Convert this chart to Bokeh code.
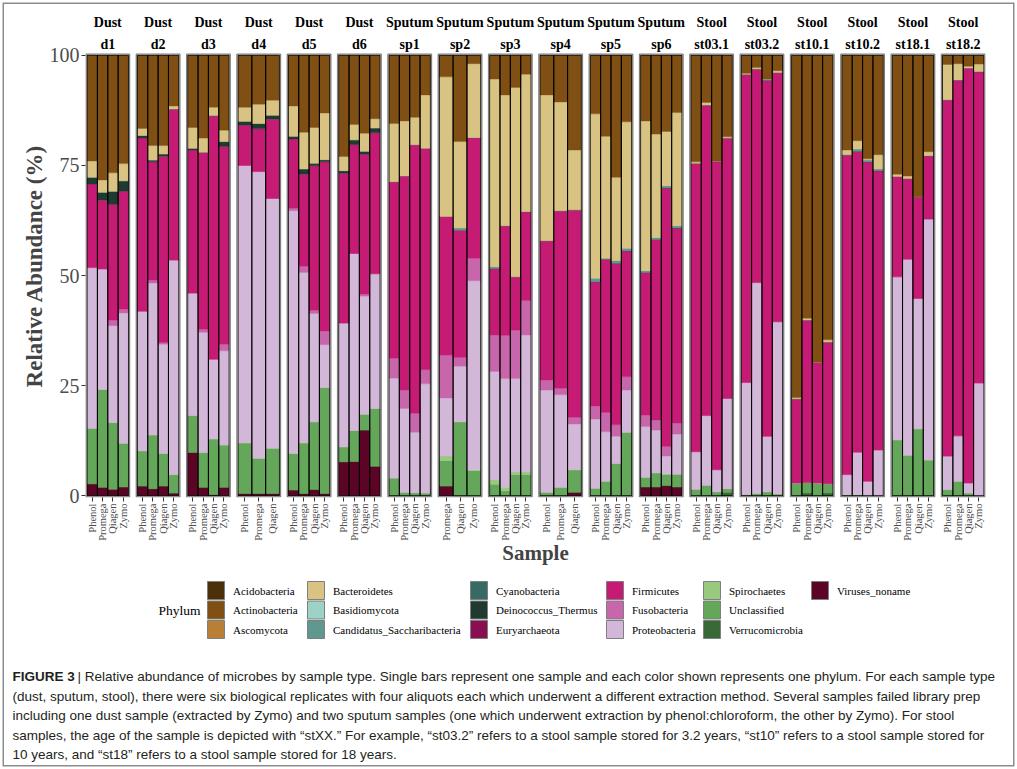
import math
from bokeh.plotting import figure
from bokeh.layouts import column
from bokeh.models import ColumnDataSource, Range1d, FixedTicker
from bokeh.core.properties import value
from bokeh.embed import file_html
from bokeh.resources import INLINE

# ---------------- data ----------------
sample_types = ["Dust"] * 6 + ["Sputum"] * 6 + ["Stool"] * 6
sample_ids = ["d1", "d2", "d3", "d4", "d5", "d6",
              "sp1", "sp2", "sp3", "sp4", "sp5", "sp6",
              "st03.1", "st03.2", "st10.1", "st10.2", "st18.1", "st18.2"]
ALL = ["Phenol", "Promega", "Qiagen", "Zymo"]
methods = [ALL, ALL, ALL, ["Phenol", "Promega", "Qiagen"], ALL, ALL,
           ALL, ["Promega", "Qiagen", "Zymo"], ALL, ["Phenol", "Promega", "Qiagen"], ALL, ALL,
           ALL, ALL, ALL, ALL, ALL, ALL]

phyla = ["Acidobacteria", "Actinobacteria", "Ascomycota", "Bacteroidetes", "Basidiomycota",
         "Candidatus_Saccharibacteria", "Cyanobacteria", "Deinococcus_Thermus", "Euryarchaeota",
         "Firmicutes", "Fusobacteria", "Proteobacteria", "Spirochaetes", "Unclassified",
         "Verrucomicrobia", "Viruses_noname"]
phylum_colors = ["#4b3009", "#7f4f13", "#b97f36", "#d9c382", "#9dd3c5",
                 "#5f988e", "#366b63", "#1f3a2f", "#8a0f52",
                 "#c51b75", "#c866ab", "#d3b7d8", "#98c97e", "#65a75a",
                 "#376a36", "#5b0426"]

# percentages per bar, panel by panel (d1..st18.2)
viruses_noname = [2.7, 1.9, 1.5, 2.0, 2.2, 1.6, 2.2, 0.6, 9.8, 1.9, 0.3, 1.9, 0.5, 0.5, 0.5,
                  1.3, 0.5, 1.4, 0.5, 7.7, 7.8, 14.9, 6.7,
                  0, 0, 0, 0, 2.2, 0, 0, 0, 0, 0, 0, 0, 0, 0.8, 0, 0, 0, 0, 2.0, 2.0, 2.3, 2.0,
                  0, 0, 0, 0, 0, 0, 0, 0, 0, 0, 0, 0, 0, 0, 0, 0, 0, 0, 0, 0, 0, 0, 0, 0]
verrucomicrobia = [0, 0, 0, 0, 0, 0, 0, 0, 0, 0, 0, 0, 0, 0, 0,
                   0, 0, 0, 0, 0, 0, 0, 0,
                   0, 0, 0, 0, 0, 0, 0, 0, 0, 0, 0, 0, 0, 0, 0, 0, 0, 0, 0, 0, 0, 0,
                   0, 0, 0, 0.8, 0, 0, 0, 0, 0, 0.6, 0, 0.6, 0, 0, 0, 0, 0, 0, 0, 0, 0, 0, 0, 0]
unclassified = [12.6, 22.2, 15.1, 9.9, 8.0, 12.2, 7.4, 4.2, 8.4, 7.9, 12.6, 9.6, 11.5, 8.0, 10.3,
                8.3, 11.5, 15.4, 24.1, 3.4, 7.0, 3.6, 13.1,
                4.0, 0.8, 0.7, 0.6, 5.8, 16.8, 5.7, 2.6, 1.1, 4.8, 4.8, 0.8, 1.9, 5.1,
                1.7, 3.3, 7.3, 14.4, 2.2, 3.2, 2.6, 2.9,
                1.5, 2.4, 0.9, 0.8, 0.3, 0.5, 0.9, 0.4, 2.9, 2.4, 2.9, 2.1, 0.2, 0.2, 0, 0,
                12.7, 9.2, 15.2, 8.1, 1.4, 3.3, 0.6, 0]
spirochaetes = [0, 0, 0, 0, 0, 0, 0, 0, 0, 0, 0, 0, 0, 0, 0,
                0, 0, 0, 0, 0, 0, 0, 0,
                0, 0, 0, 0, 1.0, 0, 0.2, 1.0, 0.8, 0.6, 0.6, 0, 0, 0, 0, 0, 0, 0, 0, 0, 0, 0,
                0, 0, 0, 0, 0, 0, 0, 0, 0, 0, 0, 0, 0, 0, 0, 0, 0, 0, 0, 0, 0, 0, 0, 0]
proteobacteria = [36.5, 27.4, 22.0, 29.6, 31.7, 34.5, 24.8, 48.7, 27.8, 27.3, 18.1, 21.4, 63.0, 65.1, 56.7,
                  55.1, 38.7, 24.6, 9.7, 28.1, 40.2, 26.8, 30.6,
                  22.7, 19.0, 13.7, 24.8, 13.2, 12.6, 42.9, 24.6, 24.7, 21.2, 31.1, 23.2, 21.0, 10.4,
                  15.7, 11.2, 6.2, 9.6, 11.5, 9.7, 4.1, 9.1,
                  8.5, 15.8, 5.0, 20.5, 25.4, 47.9, 12.6, 39.1, 0, 0, 0, 0, 4.6, 9.7, 3.3, 10.4,
                  37.0, 44.5, 29.6, 54.7, 7.6, 10.3, 2.3, 25.6]
fusobacteria = [0, 0, 1.3, 0.9, 0, 0.7, 0.4, 0, 0, 0.7, 0, 1.5, 0, 0, 0,
                0.6, 1.4, 0.7, 3.1, 0, 0, 0.5, 0,
                4.5, 4.2, 4.3, 3.2, 9.7, 2.0, 5.1, 8.3, 9.8, 11.0, 7.8, 2.3, 1.5, 1.5,
                3.0, 4.4, 2.6, 3.0, 2.6, 2.3, 2.2, 2.5,
                0, 0, 0, 0, 0, 0, 0, 0, 0, 0, 0, 0, 0, 0, 0, 0, 0, 0, 0, 0, 0, 0, 0, 0]
firmicutes = [19.0, 15.6, 26.2, 26.7, 39.3, 26.8, 42.3, 34.3, 32.5, 40.2, 55.3, 44.9, 9.1, 9.7, 18.0,
              15.7, 20.9, 32.8, 38.4, 34.0, 24.7, 31.7, 32.0,
              40.1, 48.6, 61.0, 50.3, 31.5, 28.9, 27.4, 15.1, 24.9, 12.1, 20.2, 31.6, 40.3, 47.1,
              28.2, 34.8, 36.7, 28.6, 32.4, 41.0, 58.7, 44.3,
              65.5, 70.5, 70.1, 59.1, 70.0, 48.5, 80.8, 56.6, 19.1, 36.9, 27.4, 32.2,
              72.6, 68.3, 72.5, 63.4, 22.8, 18.3, 23.1, 14.4, 80.9, 80.8, 94.2, 70.7]
deinococcus_thermus = [1.5, 1.8, 3.0, 2.4, 0.6, 0.4, 0.5, 0, 0.4, 0, 0, 1.1, 0.9, 1.2, 0.9,
                       0.6, 1.2, 0.6, 0.5, 0.6, 1.1, 0.7, 1.1,
                       0, 0, 0, 0, 0, 0, 0, 0, 0, 0, 0, 0, 0, 0, 0, 0, 0, 0, 0, 0, 0, 0,
                       0, 0, 0, 0, 0, 0, 0, 0, 0, 0, 0, 0, 0, 0, 0, 0, 0, 0, 0, 0, 0, 0, 0, 0]
candidatus_saccharibacteria = [0, 0, 0, 0, 0, 0, 0, 0, 0, 0, 0, 0, 0, 0, 0,
                               0, 0, 0, 0, 0, 0, 0, 0,
                               0, 0, 0, 0, 0, 0.5, 0, 0.4, 0, 0, 0, 0, 0, 0,
                               0.8, 0.2, 0.6, 0.6, 0.4, 0.4, 0.5, 0.5,
                               0, 0, 0, 0, 0, 0, 0.3, 0, 0, 0, 0, 0, 0, 0.5, 0.4, 0.4,
                               0, 0, 0, 0, 0, 0, 0, 0]
bacteroidetes = [3.7, 2.8, 4.2, 3.9, 1.6, 3.3, 1.9, 0.7, 4.7, 3.2, 1.9, 2.6, 3.2, 4.4, 3.4,
                 6.9, 8.3, 8.1, 10.6, 3.2, 3.5, 4.1, 2.1,
                 13.2, 12.5, 6.2, 12.1, 31.7, 19.6, 16.8, 42.6, 29.7, 43.0, 31.2, 33.1, 24.7, 13.6,
                 37.3, 27.7, 18.9, 28.7, 34.0, 23.5, 12.3, 25.7,
                 0.3, 0.6, 0, 0.3, 0.2, 0.3, 0, 0.4, 0.3, 0.4, 0, 0.5, 1.1, 1.9, 0.3, 3.2,
                 0.5, 0.6, 0, 0.9, 8.0, 3.7, 0.4, 1.7]
actinobacteria = [24.0, 28.3, 26.7, 24.6, 16.6, 20.5, 20.5, 11.5, 16.4, 18.8, 11.8, 17.0, 11.8, 11.1, 10.2,
                  11.5, 17.5, 16.4, 13.1, 23.0, 15.7, 17.7, 14.4,
                  15.5, 14.9, 14.1, 9.0, 4.9, 19.6, 1.9, 5.4, 9.0, 7.3, 4.3, 9.0, 10.6, 21.5,
                  13.3, 18.4, 27.7, 15.1, 14.9, 17.9, 17.3, 13.0,
                  24.2, 10.7, 24.0, 18.5, 4.1, 2.8, 5.4, 3.5, 77.7, 59.7, 69.7, 64.6,
                  21.5, 19.4, 23.5, 22.6, 27.0, 27.4, 32.1, 21.9, 2.1, 1.9, 2.5, 2.0]

# stacking order, bottom to top
stack_data = [("Viruses_noname", viruses_noname), ("Verrucomicrobia", verrucomicrobia),
              ("Unclassified", unclassified), ("Spirochaetes", spirochaetes),
              ("Proteobacteria", proteobacteria), ("Fusobacteria", fusobacteria),
              ("Firmicutes", firmicutes), ("Deinococcus_Thermus", deinococcus_thermus),
              ("Candidatus_Saccharibacteria", candidatus_saccharibacteria),
              ("Bacteroidetes", bacteroidetes), ("Actinobacteria", actinobacteria)]

caption_head = "FIGURE 3"
caption_lines = [
    "| Relative abundance of microbes by sample type. Single bars represent one sample and each color shown represents one phylum. For each sample type",
    "(dust, sputum, stool), there were six biological replicates with four aliquots each which underwent a different extraction method. Several samples failed library prep",
    "including one dust sample (extracted by Zymo) and two sputum samples (one which underwent extraction by phenol:chloroform, the other by Zymo). For stool",
    "samples, the age of the sample is depicted with \u201cstXX.\u201d For example, \u201cst03.2\u201d refers to a stool sample stored for 3.2 years, \u201cst10\u201d refers to a stool sample stored for",
    "10 years, and \u201cst18\u201d refers to a stool sample stored for 18 years.",
]

# ---------------- layout constants ----------------
W = 1017
PANEL_W, GAP, PAD = 12.6, 1.97, 0.3
n_panels = len(sample_ids)
TOTAL = n_panels * PANEL_W + (n_panels - 1) * GAP
SERIF = "Liberation Serif"
CAP_FONT = "Liberation Sans"
FRAME_L, FRAME_R = 85, 985          # main frame, canvas px
TOP_H = 34                          # height of the band with the first strip row
PANEL_TOP, PANEL_BOT = 53, 497      # canvas px of y = 100.4 and y = -0.4
PX_PER_UNIT = (PANEL_BOT - PANEL_TOP) / 100.8
MAIN_BOTTOM = 580
BOT_H = 769 - MAIN_BOTTOM
XS0, XS1 = -0.15, TOTAL + 0.15
kpx = (FRAME_R - FRAME_L) / (XS1 - XS0)
Y_TOP = 100.4 + (PANEL_TOP - TOP_H) / PX_PER_UNIT

xs, ws, tick_labels = [], [], {}
panel_left, panel_right, panel_mid = [], [], []
for pi, ms in enumerate(methods):
    left = pi * (PANEL_W + GAP)
    panel_left.append(left)
    panel_right.append(left + PANEL_W)
    panel_mid.append(left + PANEL_W / 2)
    bw = (PANEL_W - 2 * PAD) / len(ms)
    for i, m in enumerate(ms):
        xc = left + PAD + bw * (i + 0.5)
        xs.append(xc)
        ws.append(bw)
        tick_labels[xc] = m

data = {"x": xs, "w": ws}
names = []
for name, vals in stack_data:
    data[name] = vals
    names.append(name)
data["total"] = [sum(v[i] for _, v in stack_data) for i in range(len(xs))]
src = ColumnDataSource(data)
cmap = dict(zip(phyla, phylum_colors))


def plain(fig, bg=None):
    fig.outline_line_color = None
    fig.xgrid.visible = False
    fig.ygrid.visible = False
    fig.background_fill_color = bg
    fig.border_fill_color = None
    return fig


# ---------------- first strip row (top band) ----------------
top = plain(figure(width=W, height=TOP_H, output_backend="svg", toolbar_location=None, title=None,
                   x_range=Range1d(XS0 - FRAME_L / kpx, XS1 + (W - FRAME_R) / kpx),
                   y_range=Range1d(TOP_H, 0), x_axis_type=None, y_axis_type=None,
                   min_border=0, frame_align=False))
top.text(x=panel_mid, y=[22] * n_panels,
         text=sample_types, text_font=value(SERIF), text_font_style="bold",
         text_font_size=value("14px"), text_align="center", text_baseline="middle",
         text_color="black")

# ---------------- main chart ----------------
p = plain(figure(width=W, height=MAIN_BOTTOM - TOP_H, output_backend="svg", toolbar_location=None,
                 title=None, x_range=Range1d(XS0, XS1), y_range=Range1d(-0.4, Y_TOP),
                 min_border_left=FRAME_L, min_border_right=W - FRAME_R,
                 min_border_top=0, min_border_bottom=MAIN_BOTTOM - PANEL_BOT,
                 frame_align=False), bg="white")

p.vbar_stack(names, x="x", width="w", source=src,
             color=[cmap[n] for n in names], line_width=0.4)
p.vbar(x="x", width="w", bottom=0, top="total", source=src,
       fill_color=None, line_color="black", line_width=0.9)
p.quad(left=panel_left, right=panel_right, bottom=-0.25, top=100.25,
       fill_color=None, line_color="#7f7f7f", line_width=1.4)
# second strip row (sample ids) sits just above the panels
p.text(x=panel_mid, y=[100.4 + (PANEL_TOP - 44) / PX_PER_UNIT] * n_panels,
       text=sample_ids, text_font=value(SERIF), text_font_style="bold",
       text_font_size=value("14px"), text_align="center", text_baseline="middle",
       text_color="black")

p.xaxis.ticker = FixedTicker(ticks=xs)
p.xaxis.major_label_overrides = tick_labels
p.xaxis.major_label_orientation = math.pi / 2
p.xaxis.axis_line_color = None
p.xaxis.major_tick_line_color = "#333333"
p.xaxis.major_tick_out = 4
p.xaxis.major_tick_in = 0
p.xaxis.minor_tick_line_color = None
p.xaxis.major_label_text_font = SERIF
p.xaxis.major_label_text_font_size = "10.5px"
p.xaxis.major_label_text_color = "#4d4d4d"
p.xaxis.major_label_standoff = 2
p.xaxis.axis_label = "Sample"
p.xaxis.axis_label_text_font = SERIF
p.xaxis.axis_label_text_font_style = "bold"
p.xaxis.axis_label_text_font_size = "21px"
p.xaxis.axis_label_standoff = -3

p.yaxis.ticker = FixedTicker(ticks=[0, 25, 50, 75, 100])
p.yaxis.axis_line_color = None
p.yaxis.major_tick_line_color = "#333333"
p.yaxis.major_tick_out = 4
p.yaxis.major_tick_in = 0
p.yaxis.minor_tick_line_color = None
p.yaxis.major_label_text_font = SERIF
p.yaxis.major_label_text_font_size = "20px"
p.yaxis.major_label_text_color = "#4d4d4d"
p.yaxis.major_label_standoff = 2
p.yaxis.axis_label = "Relative Abundance (%)"
p.yaxis.axis_label_text_font = SERIF
p.yaxis.axis_label_text_font_style = "bold"
p.yaxis.axis_label_text_font_size = "23px"
p.yaxis.axis_label_standoff = 0

# ---------------- legend + caption (bottom band) ----------------
bot = plain(figure(width=W, height=BOT_H, output_backend="svg", toolbar_location=None, title=None,
                   x_range=Range1d(0, W), y_range=Range1d(769, MAIN_BOTTOM),
                   x_axis_type=None, y_axis_type=None, min_border=0, frame_align=False))
col_x = [207, 307, 470, 606, 703, 811]
kl, kt, lx, ly = [], [], [], []
for k, name in enumerate(phyla):
    c, r = divmod(k, 3)
    kl.append(col_x[c])
    kt.append(581 + r * 19.5)
    lx.append(col_x[c] + 25.5)
    ly.append(581 + r * 19.5 + 9)
bot.quad(left=kl, right=[v + 17 for v in kl], top=kt, bottom=[v + 18 for v in kt],
         fill_color=phylum_colors, line_color="#7f7f7f", line_width=1)
bot.text(x=lx, y=ly, text=phyla, text_font=value(SERIF), text_font_size=value("11px"),
         text_baseline="middle", text_color="black")
bot.text(x=[158], y=[609.5], text=["Phylum"], text_font=value(SERIF),
         text_font_size=value("13.5px"), text_baseline="middle", text_color="black")

CAP_Y0, CAP_DY = 676, 19.5
bot.text(x=[12], y=[CAP_Y0], text=[caption_head], text_font=value(CAP_FONT), text_font_style="bold",
         text_font_size=value("13.5px"), text_baseline="middle", text_color="#231f20")
bot.text(x=[77] + [12] * (len(caption_lines) - 1),
         y=[CAP_Y0 + CAP_DY * i for i in range(len(caption_lines))],
         text=caption_lines, text_font=value(CAP_FONT), text_font_size=value("13.5px"),
         text_baseline="middle", text_color="#231f20")

layout = column(top, p, bot, spacing=0,
                styles={"box-shadow": "inset 0 0 0 2.5px #ffffff, inset 0 0 0 4px #8c8c8c"})

open("out.html", "w").write(file_html(layout, INLINE))
